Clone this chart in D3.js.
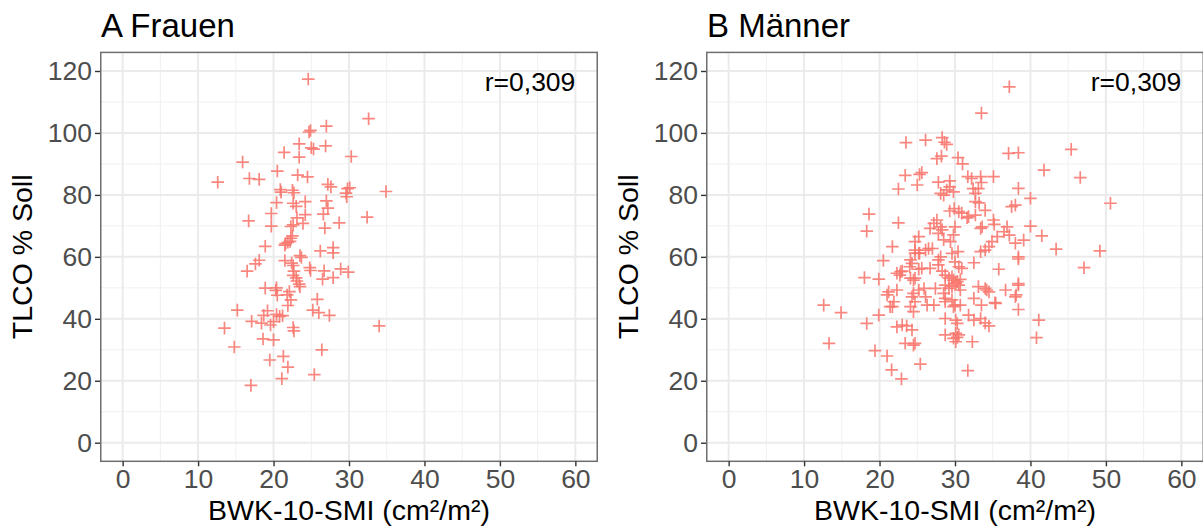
<!DOCTYPE html>
<html>
<head>
<meta charset="utf-8">
<script src="https://cdn.jsdelivr.net/npm/d3@7"></script>
<style>
  body { margin: 0; background: #fff; }
  text { font-family: "Liberation Sans", Arial, sans-serif; }
</style>
</head>
<body>
<div id="chart"></div>
<script>
// Tick values for both panels
var xTicks = [0, 10, 20, 30, 40, 50, 60];
var yTicks = [0, 20, 40, 60, 80, 100, 120];
var xMinor = [5, 15, 25, 35, 45, 55];
var yMinor = [10, 30, 50, 70, 90, 110];

var panelTitles = ["A Frauen", "B Männer"];
var rLabels = ["r=0,309", "r=0,309"];

// Frauen: BWK-10-SMI (x) and TLCO % Soll (y)
var frauenBwk = [24.6, 32.6, 27.0, 24.7, 24.9, 23.4, 26.9, 25.3, 25.0, 21.4, 23.4, 30.3, 15.9, 20.5, 23.2, 24.5,
  16.8, 18.1, 12.6, 27.2, 27.6, 29.8, 30.1, 20.9, 21.0, 22.5, 22.7, 34.9, 29.6, 29.7, 22.6, 23.0, 24.2, 20.4,
  27.0, 27.2, 19.7, 24.2, 26.6, 32.4, 23.1, 16.7, 23.9, 28.7, 22.3, 22.6, 19.7, 26.8, 22.5, 22.3, 21.6, 21.9,
  22.2, 21.5, 18.9, 27.9, 26.2, 27.9, 23.5, 23.7, 18.1, 21.5, 22.4, 17.6, 22.6, 24.8, 24.9, 28.9, 16.5, 22.7,
  26.7, 29.9, 22.6, 23.0, 27.9, 26.5, 23.1, 23.4, 23.5, 18.9, 20.4, 20.3, 22.1, 21.8, 20.5, 22.3, 25.8, 21.9,
  15.2, 25.2, 26.0, 19.2, 27.4, 18.7, 20.4, 20.8, 21.2, 20.0, 17.1, 18.4, 19.6, 13.5, 22.6, 22.7, 34.0, 18.6,
  20.0, 14.8, 26.4, 21.3, 19.5, 21.9, 25.4, 21.1, 17.0];
var frauenTlco = [117.4, 104.6, 102.2, 100.3, 100.8, 96.5, 95.8, 94.8, 95.2, 93.7, 92.2, 92.4, 90.6, 87.7, 86.4, 85.8,
  85.3, 85.0, 84.1, 83.4, 82.6, 82.0, 82.3, 81.7, 80.9, 81.5, 80.7, 81.1, 80.6, 79.4, 77.3, 76.3, 77.8, 77.5,
  78.1, 75.7, 74.0, 73.6, 73.8, 72.8, 72.6, 71.6, 70.8, 71.0, 69.8, 70.3, 69.9, 69.3, 66.8, 66.0, 64.3, 64.7,
  65.0, 63.8, 63.4, 63.0, 61.9, 61.3, 60.4, 59.8, 58.9, 58.8, 58.0, 57.7, 57.2, 56.5, 55.6, 56.1, 55.4, 55.4,
  55.5, 55.1, 54.0, 53.2, 53.3, 52.8, 52.2, 51.2, 50.4, 49.9, 50.0, 49.2, 48.8, 47.7, 47.6, 46.1, 46.3, 44.3,
  42.8, 42.8, 42.0, 42.6, 41.1, 41.1, 41.4, 40.8, 41.0, 39.1, 39.2, 38.6, 38.0, 37.0, 37.2, 36.1, 37.7, 33.5,
  33.2, 30.9, 30.0, 27.9, 26.7, 24.4, 22.0, 20.7, 18.5];

// Maenner: BWK-10-SMI (x) and TLCO % Soll (y)
var maennerBwk = [37.2, 33.5, 23.5, 26.1, 28.3, 28.6, 28.9, 37.1, 38.4, 45.4, 27.6, 28.2, 30.4, 31.0, 41.8, 23.4,
  25.3, 25.6, 25.0, 22.5, 46.6, 31.7, 32.2, 33.4, 33.5, 35.1, 27.8, 29.3, 29.3, 28.9, 28.1, 28.5, 29.8, 32.4,
  33.1, 32.7, 38.4, 40.0, 50.6, 32.7, 33.2, 37.5, 38.0, 18.6, 29.3, 29.9, 30.5, 30.9, 31.8, 32.7, 34.0, 31.6,
  22.5, 27.2, 27.6, 28.1, 28.3, 27.8, 26.7, 30.0, 29.8, 28.5, 29.4, 33.6, 35.1, 35.2, 40.0, 36.9, 36.5, 37.2,
  33.4, 18.3, 41.5, 39.1, 38.0, 35.6, 34.9, 34.5, 34.0, 33.4, 30.4, 29.6, 28.1, 25.2, 24.7, 24.7, 26.1, 26.5,
  27.0, 25.2, 24.7, 25.3, 21.7, 43.4, 49.2, 38.4, 20.5, 27.8, 27.8, 30.0, 30.5, 30.9, 32.5, 24.3, 24.0, 25.2,
  25.6, 26.7, 24.1, 35.8, 47.1, 22.3, 22.7, 22.8, 23.0, 28.3, 28.7, 18.0, 19.9, 24.1, 24.5, 24.7, 29.2, 29.8,
  30.7, 29.6, 30.3, 30.1, 28.7, 29.6, 29.2, 30.5, 30.7, 27.4, 25.9, 25.2, 24.5, 24.3, 24.7, 24.1, 24.5, 21.2,
  21.0, 22.3, 21.9, 21.7, 26.1, 26.3, 27.2, 28.5, 28.7, 29.6, 28.7, 30.0, 30.7, 29.8, 32.5, 33.5, 35.4, 33.1,
  34.0, 34.5, 34.2, 36.7, 38.4, 38.0, 38.4, 21.4, 19.9, 31.8, 32.5, 33.4, 34.0, 34.5, 28.7, 30.1, 30.3, 12.6,
  14.9, 18.3, 41.1, 22.3, 23.0, 23.6, 24.3, 28.7, 30.1, 30.3, 30.5, 30.1, 29.8, 32.3, 40.8, 13.3, 23.4, 24.5,
  24.7, 19.4, 21.0, 25.4, 21.6, 31.7, 22.9, 38.4, 38.1, 35.3, 38.4];
var maennerTlco = [114.9, 106.4, 96.9, 97.7, 98.5, 97.0, 96.3, 93.4, 93.6, 94.7, 91.7, 92.5, 92.0, 90.0, 88.0, 86.3,
  86.6, 87.2, 83.2, 81.9, 85.6, 85.9, 85.3, 85.9, 84.0, 85.9, 84.1, 84.5, 82.6, 81.6, 80.5, 79.9, 81.0, 82.0,
  82.0, 80.5, 82.1, 78.9, 77.3, 77.8, 77.4, 76.2, 76.7, 73.8, 74.8, 75.6, 74.6, 74.1, 73.0, 73.5, 75.0, 72.6,
  71.0, 70.8, 71.9, 69.7, 68.7, 67.6, 69.2, 69.7, 67.1, 65.5, 64.9, 69.7, 71.9, 70.5, 69.9, 69.7, 68.1, 67.0,
  69.2, 68.3, 66.8, 65.4, 64.4, 66.5, 64.9, 63.3, 62.2, 61.7, 61.7, 61.1, 60.0, 66.5, 64.9, 62.2, 62.2, 62.7,
  62.7, 61.1, 61.2, 61.2, 63.3, 62.5, 61.9, 59.3, 58.8, 59.0, 57.4, 58.4, 56.8, 56.3, 58.1, 57.9, 56.8, 56.0,
  56.3, 56.3, 59.0, 56.0, 56.5, 54.7, 54.1, 55.2, 55.4, 55.4, 54.1, 53.3, 52.8, 53.1, 52.5, 53.1, 53.1, 52.5,
  52.7, 53.6, 52.0, 51.5, 50.9, 50.4, 49.8, 50.9, 49.3, 49.8, 49.8, 49.3, 48.2, 47.1, 45.5, 43.9, 42.3, 48.7,
  47.7, 49.3, 45.5, 43.9, 47.1, 44.4, 44.4, 48.2, 46.6, 46.1, 45.5, 44.4, 44.4, 43.9, 46.6, 44.4, 45.0, 50.4,
  49.8, 48.7, 49.3, 49.3, 50.9, 47.1, 43.0, 43.9, 41.2, 41.2, 39.6, 40.1, 38.7, 37.7, 40.1, 39.6, 38.5, 44.4,
  42.0, 38.5, 39.6, 37.4, 38.0, 37.7, 36.4, 34.8, 35.3, 34.0, 34.8, 32.6, 33.7, 32.6, 33.9, 32.1, 32.1, 31.5,
  32.1, 29.7, 28.0, 25.4, 23.5, 23.3, 20.6, 51.4, 47.7, 45.2, 60.0];

var svgWidth = 1203;
var svgHeight = 528;

var svg = d3.select("#chart")
  .append("svg")
  .attr("width", svgWidth)
  .attr("height", svgHeight);

var panelTop = 52.4;
var panelBottom = 461.3;
var panelWidth = 498;
var panelLefts = [100, 706];
var seriesX = [frauenBwk, maennerBwk];
var seriesY = [frauenTlco, maennerTlco];

var yScale = d3.scaleLinear().domain([-6, 126]).range([panelBottom, panelTop]);

panelLefts.forEach(function(left, i) {
  var xScale = d3.scaleLinear().domain([-3, 63]).range([left, left + panelWidth]);
  var g = svg.append("g");

  // Gridlines: minor first, then major
  g.selectAll(".vminor").data(xMinor).enter().append("line")
    .attr("x1", d => xScale(d)).attr("x2", d => xScale(d))
    .attr("y1", panelTop).attr("y2", panelBottom)
    .attr("stroke", "#f0f0f0").attr("stroke-width", 1);
  g.selectAll(".hminor").data(yMinor).enter().append("line")
    .attr("y1", d => yScale(d)).attr("y2", d => yScale(d))
    .attr("x1", left).attr("x2", left + panelWidth)
    .attr("stroke", "#f0f0f0").attr("stroke-width", 1);
  g.selectAll(".vmajor").data(xTicks).enter().append("line")
    .attr("x1", d => xScale(d)).attr("x2", d => xScale(d))
    .attr("y1", panelTop).attr("y2", panelBottom)
    .attr("stroke", "#ebebeb").attr("stroke-width", 2);
  g.selectAll(".hmajor").data(yTicks).enter().append("line")
    .attr("y1", d => yScale(d)).attr("y2", d => yScale(d))
    .attr("x1", left).attr("x2", left + panelWidth)
    .attr("stroke", "#ebebeb").attr("stroke-width", 2);

  // Points as "+" markers
  var pts = seriesX[i].map((v, j) => [v, seriesY[i][j]]);
  g.selectAll(".pt").data(pts).enter().append("path")
    .attr("transform", d => "translate(" + xScale(d[0]) + "," + yScale(d[1]) + ")")
    .attr("d", "M-6.3,0H6.3M0,-6.3V6.3")
    .attr("stroke", "#F8766D")
    .attr("stroke-opacity", 0.88)
    .attr("stroke-width", 1.7)
    .attr("fill", "none");

  // Panel border
  g.append("rect")
    .attr("x", left + 0.75).attr("y", panelTop)
    .attr("width", panelWidth - 1.5).attr("height", panelBottom - panelTop)
    .attr("fill", "none").attr("stroke", "#6e6e6e").attr("stroke-width", 1.5);

  // Axes
  var bottomAxis = d3.axisBottom(xScale).tickValues(xTicks).tickSize(5).tickPadding(3);
  var leftAxis = d3.axisLeft(yScale).tickValues(yTicks).tickSize(5).tickPadding(3);
  var ax = g.append("g").attr("transform", "translate(0," + panelBottom + ")").call(bottomAxis);
  var ay = g.append("g").attr("transform", "translate(" + left + ",0)").call(leftAxis);
  [ax, ay].forEach(function(a) {
    a.select(".domain").remove();
    a.selectAll(".tick line").attr("stroke", "#333").attr("stroke-width", 1.4);
    a.selectAll(".tick text").attr("fill", "#4d4d4d").attr("font-size", 26.5)
      .attr("font-family", "'Liberation Sans', Arial, sans-serif");
  });

  // Titles and labels
  g.append("text").attr("x", left + 1).attr("y", 37)
    .attr("font-size", 33).attr("fill", "#000").text(panelTitles[i]);
  g.append("text").attr("x", xScale(60)).attr("y", yScale(116.5)).attr("dy", "0.35em")
    .attr("text-anchor", "end").attr("font-size", 26.5).attr("fill", "#000").text(rLabels[i]);
  g.append("text").attr("x", left + panelWidth / 2).attr("y", 520)
    .attr("text-anchor", "middle").attr("font-size", 28.5).attr("fill", "#000")
    .text("BWK-10-SMI (cm²/m²)");
  g.append("text")
    .attr("transform", "translate(" + (left - 68) + "," + ((panelTop + panelBottom) / 2) + ") rotate(-90)")
    .attr("text-anchor", "middle").attr("font-size", 28.5).attr("fill", "#000")
    .text("TLCO % Soll");
});
</script>
</body>
</html>
